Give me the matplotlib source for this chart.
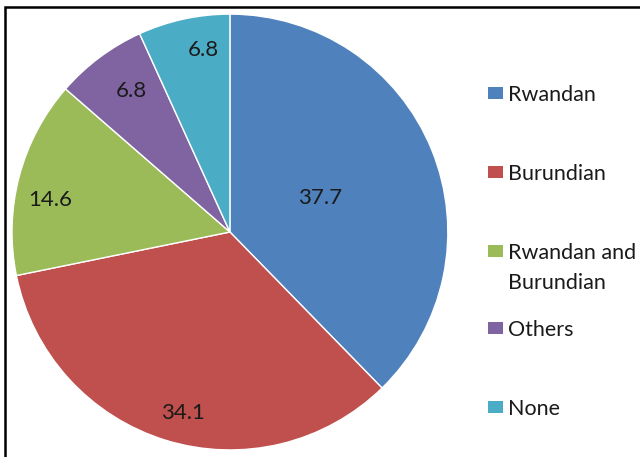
import numpy as np
import matplotlib.pyplot as plt
from matplotlib.patches import Rectangle

# data
categories = ['Rwandan', 'Burundian', 'Rwandan and\nBurundian', 'Others', 'None']
values = [37.7, 34.1, 14.6, 6.8, 6.8]
colors = ['#4F81BD', '#C0504D', '#9BBB59', '#8064A2', '#4BACC6']

# label placement inside the wedges (radius fraction, angle shift in degrees)
label_r = [0.44, 0.86, 0.84, 0.79, 0.845]
label_shift = [-1.5, 2.6, 4.6, -1.6, -4]

plt.rcParams['font.family'] = ['Lato', 'DejaVu Sans']

fig = plt.figure(figsize=(6.4, 4.57), dpi=100)
ax = fig.add_axes([0.01875, 0.0153, 0.681, 0.954])

wedges, _ = ax.pie(values, colors=colors, startangle=90, counterclock=False,
                   wedgeprops=dict(edgecolor='white', linewidth=1))
ax.set_xlim(-1, 1)
ax.set_ylim(-1, 1)
ax.set_aspect('equal')

###value labels
for w, v, r, s in zip(wedges, values, label_r, label_shift):
    ang = np.deg2rad((w.theta1 + w.theta2) / 2 + s)
    ax.text(r * np.cos(ang), r * np.sin(ang), f'{v:.1f}', ha='center', va='center',
            fontsize=16, color='#1a1a1a')

###legend drawn by hand so the two-line entry keeps even spacing
ys = [93, 172, 251, 328, 407]
for cat, col, y in zip(categories, colors, ys):
    yf = 1 - y / 457
    fig.add_artist(Rectangle((488 / 640, yf - 6 / 457), 15 / 640, 12 / 457,
                             transform=fig.transFigure, facecolor=col, edgecolor='none'))
    for i, line in enumerate(cat.split('\n')):
        fig.text(508 / 640, yf - 2 / 457 - i * 30 / 457, line, ha='left', va='center',
                 fontsize=15.5, color='#1a1a1a')

###outer frame (only left and top edges visible)
fig.add_artist(Rectangle((5 / 640, -0.1), 1.2, 1.1 - 7 / 457, transform=fig.transFigure,
                         fill=False, edgecolor='black', linewidth=1.8, clip_on=False))

fig.savefig('out.png', dpi=100)
